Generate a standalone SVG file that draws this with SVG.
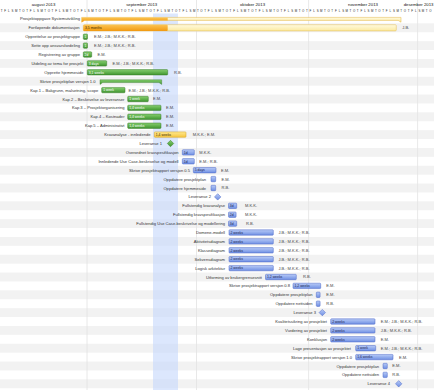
<svg xmlns="http://www.w3.org/2000/svg" width="434" height="390" viewBox="0 0 434 390">
<defs>
<linearGradient id="gg" x1="0" y1="0" x2="0" y2="1"><stop offset="0" stop-color="#86cf6f"/><stop offset="1" stop-color="#3f952f"/></linearGradient>
<linearGradient id="gb" x1="0" y1="0" x2="0" y2="1"><stop offset="0" stop-color="#b8cbf7"/><stop offset="1" stop-color="#6f8fe3"/></linearGradient>
<linearGradient id="gy" x1="0" y1="0" x2="0" y2="1"><stop offset="0" stop-color="#ffe98e"/><stop offset="1" stop-color="#f6c540"/></linearGradient>
<linearGradient id="go" x1="0" y1="0" x2="0" y2="1"><stop offset="0" stop-color="#fcc452"/><stop offset="1" stop-color="#f19a12"/></linearGradient>
<linearGradient id="gp" x1="0" y1="0" x2="0" y2="1"><stop offset="0" stop-color="#fffbe0"/><stop offset="1" stop-color="#fbe9a0"/></linearGradient>
<clipPath id="prog"><rect x="0" y="0" width="167.7" height="390"/></clipPath>
</defs>
<style>
text{font-family:"Liberation Sans",Arial,sans-serif}
.lbl{font-size:4.1px;fill:#333;text-anchor:end}
.res{font-size:4px;fill:#454545}
.in{font-size:3.4px;fill:#1b2450}
.gi{font-size:3.4px;fill:#ffffff}
.yi{font-size:3.4px;fill:#3a2a00}
.g{fill:url(#gg);stroke:#387a2a;stroke-width:.5}
.b{fill:url(#gb);stroke:#4a67c6;stroke-width:.5}
.y{fill:url(#gy);stroke:#d4a01c;stroke-width:.5}
.row{fill:#f2f2f2}
.grid{stroke:#e2e2e2;stroke-width:.8}
.mon{font-size:4.3px;fill:#111;text-anchor:middle}
.day{font-size:2.9px;fill:#222;text-anchor:middle}
.ms{stroke-width:.5}
</style>
<rect width="434" height="390" fill="#fff"/>
<g id="rows">
<rect class="row" x="0" y="23.35" width="434" height="8.9"/>
<rect class="row" x="0" y="41.15" width="434" height="8.9"/>
<rect class="row" x="0" y="58.95" width="434" height="8.9"/>
<rect class="row" x="0" y="76.75" width="434" height="8.9"/>
<rect class="row" x="0" y="94.55" width="434" height="8.9"/>
<rect class="row" x="0" y="112.35" width="434" height="8.9"/>
<rect class="row" x="0" y="130.15" width="434" height="8.9"/>
<rect class="row" x="0" y="147.95" width="434" height="8.9"/>
<rect class="row" x="0" y="165.75" width="434" height="8.9"/>
<rect class="row" x="0" y="183.55" width="434" height="8.9"/>
<rect class="row" x="0" y="201.35" width="434" height="8.9"/>
<rect class="row" x="0" y="219.15" width="434" height="8.9"/>
<rect class="row" x="0" y="236.95" width="434" height="8.9"/>
<rect class="row" x="0" y="254.75" width="434" height="8.9"/>
<rect class="row" x="0" y="272.55" width="434" height="8.9"/>
<rect class="row" x="0" y="290.35" width="434" height="8.9"/>
<rect class="row" x="0" y="308.15" width="434" height="8.9"/>
<rect class="row" x="0" y="325.95" width="434" height="8.9"/>
<rect class="row" x="0" y="343.75" width="434" height="8.9"/>
<rect class="row" x="0" y="361.55" width="434" height="8.9"/>
<rect class="row" x="0" y="379.35" width="434" height="8.9"/>
</g>
<rect id="current-week" x="153" y="13.5" width="25" height="376.5" fill="#c4d7fb" opacity=".6"/>
<g id="grid">
<line class="grid" x1="87" y1="0" x2="87" y2="390"/>
<line class="grid" x1="196.5" y1="0" x2="196.5" y2="390"/>
<line class="grid" x1="308.6" y1="0" x2="308.6" y2="390"/>
<line class="grid" x1="417.6" y1="0" x2="417.6" y2="390"/>
</g>
<g id="header">
<text class="mon" x="43.5" y="6">august 2013</text>
<text class="mon" x="141.7" y="6">september 2013</text>
<text class="mon" x="252.5" y="6">oktober 2013</text>
<text class="mon" x="363" y="6">november 2013</text>
<text class="mon" x="433.5" y="6" style="text-anchor:end">desember 2013</text>
<text class="day" y="11.6" x="1.63 5.26 8.90 12.53 16.16 19.80 23.43 27.06 30.69 34.33 37.96 41.59 45.23 48.86 52.49 56.13 59.76 63.39 67.02 70.66 74.29 77.92 81.56 85.19 88.82 92.46 96.09 99.72 103.35 106.99 110.62 114.25 117.89 121.52 125.15 128.79 132.42 136.05 139.68 143.32 146.95 150.58 154.22 157.85 161.48 165.12 168.75 172.38 176.01 179.65 183.28 186.91 190.55 194.18 197.81 201.45 205.08 208.71 212.34 215.98 219.61 223.24 226.88 230.51 234.14 237.78 241.41 245.04 248.67 252.31 255.94 259.57 263.21 266.84 270.47 274.11 277.74 281.37 285.00 288.64 292.27 295.90 299.54 303.17 306.80 310.44 314.07 317.70 321.33 324.97 328.60 332.23 335.87 339.50 343.13 346.77 350.40 354.03 357.66 361.30 364.93 368.56 372.20 375.83 379.46 383.10 386.73 390.36 393.99 397.63 401.26 404.89 408.53 412.16 415.79 419.43 423.06 426.69 430.32">TFLSMTOTFLSMTOTFLSMTOTFLSMTOTFLSMTOTFLSMTOTFLSMTOTFLSMTOTFLSMTOTFLSMTOTFLSMTOTFLSMTOTFLSMTOTFLSMTOTFLSMTOTFLSMTOTFLSMTO</text>
</g>
<g id="connectors"></g>

<g id="t00">
<text class="lbl" x="80" y="20.4">Prosjektoppgave Systemutvikling</text>
<path d="M81.7,17.4 H401 V22.2 L398.2,20.4 H84.5 L81.7,22.2 Z" fill="url(#gp)" stroke="#e0b547" stroke-width=".5"/>
<path d="M81.7,17.4 H401 V22.2 L398.2,20.4 H84.5 L81.7,22.2 Z" fill="url(#go)" clip-path="url(#prog)"/>
</g>
<g id="t01">
<text class="lbl" x="79.5" y="29.3">Fortløpende dokumentasjon</text>
<rect x="83.3" y="24.7" width="313" height="6.2" rx="1" fill="url(#gp)" stroke="#e3bb4e" stroke-width=".5"/>
<rect x="83.3" y="24.7" width="84.4" height="6.2" rx="1" fill="url(#go)"/>
<text class="yi" x="85" y="29">3,5 months</text>
<text class="res" x="402.3" y="29.2">J.B.</text>
</g>
<g id="t02">
<text class="lbl" x="80" y="38.2">Opprettelse av prosjektgruppe</text>
<rect class="g" x="83.3" y="34" width="4.2" height="5.4" rx=".8"/>
<text class="gi" x="84.5" y="37.9">1</text>
<text class="res" x="94" y="38.1">E.M.; J.B.; M.K.K.; R.B.</text>
</g>
<g id="t03">
<text class="lbl" x="80" y="47.1">Sette opp ansvarsfordeling</text>
<rect class="g" x="83.3" y="42.9" width="4.2" height="5.4" rx=".8"/>
<text class="gi" x="84.5" y="46.8">1</text>
<text class="res" x="94" y="47">E.M.; J.B.; M.K.K.; R.B.</text>
</g>
<g id="t04">
<text class="lbl" x="80" y="56">Registrering av gruppe</text>
<rect class="g" x="83.3" y="51.8" width="8.4" height="5.4" rx=".8"/>
<text class="gi" x="84.6" y="55.7">2d</text>
<text class="res" x="97.5" y="55.9">E.M.</text>
</g>
<g id="t05">
<text class="lbl" x="83.5" y="64.9">Utdeling av tema for prosjekt</text>
<rect class="g" x="87.3" y="60.7" width="19.4" height="5.4" rx=".8"/>
<text class="gi" x="88.8" y="64.6">3 days</text>
<text class="res" x="112.5" y="64.8">E.M.; J.B.; M.K.K.; R.B.</text>
</g>
<g id="t06">
<text class="lbl" x="83.5" y="73.8">Opprette hjemmeside</text>
<rect class="g" x="87.3" y="69.6" width="80.4" height="5.4" rx=".8"/>
<text class="gi" x="88.8" y="73.5">3,1 weeks</text>
<text class="res" x="174" y="73.7">R.B.</text>
</g>
<g id="t07">
<text class="lbl" x="95.5" y="82.7">Skrive prosjektplan versjon 1.0</text>
<path d="M100,79.8 H161.7 V84.4 L159,82.6 H102.7 L100,84.4 Z" fill="url(#gg)" stroke="#387a2a" stroke-width=".4"/>
</g>
<g id="t08">
<text class="lbl" x="98.3" y="91.6">Kap.1 – Bakgrunn, målsetning, scope</text>
<rect class="g" x="101.7" y="87.4" width="23.3" height="5.4" rx=".8"/>
<text class="gi" x="103.2" y="91.3">1 week</text>
<text class="res" x="128.5" y="91.5">E.M.; J.B.; M.K.K.; R.B.</text>
</g>
<g id="t09">
<text class="lbl" x="124.5" y="100.5">Kap.2 – Beskrivelse av leveranser</text>
<rect class="g" x="127.7" y="96.3" width="20.6" height="5.4" rx=".8"/>
<text class="gi" x="129.2" y="100.2">1 week</text>
<text class="res" x="153" y="100.4">E.M.</text>
</g>
<g id="t10">
<text class="lbl" x="124.5" y="109.4">Kap.3 – Prosjektorganisering</text>
<rect class="g" x="127.7" y="105.2" width="33.3" height="5.4" rx=".8"/>
<text class="gi" x="129.2" y="109.1">1,4 weeks</text>
<text class="res" x="166" y="109.3">E.M.</text>
</g>
<g id="t11">
<text class="lbl" x="124.5" y="118.3">Kap.4 – Kostnader</text>
<rect class="g" x="127.7" y="114.1" width="33.3" height="5.4" rx=".8"/>
<text class="gi" x="129.2" y="118">1,4 weeks</text>
<text class="res" x="166" y="118.2">E.M.</text>
</g>
<g id="t12">
<text class="lbl" x="124.5" y="127.2">Kap.5 – Administrativt</text>
<rect class="g" x="127.7" y="123" width="33.3" height="5.4" rx=".8"/>
<text class="gi" x="129.2" y="126.9">1,4 weeks</text>
<text class="res" x="166" y="127.1">E.M.</text>
</g>
<g id="t13">
<text class="lbl" x="150.5" y="136.1">Kravanalyse - innledende</text>
<rect class="y" x="154.3" y="131.9" width="31.7" height="5.4" rx=".8"/>
<text class="yi" x="155.8" y="135.8">1,4 weeks</text>
<text class="res" x="192.7" y="136">M.K.K.; E.M.</text>
</g>
<g id="t14">
<text class="lbl" x="162" y="145">Leveranse 1</text>
<polygon class="ms" points="170.5,140.3 173.7,143.5 170.5,146.7 167.3,143.5" fill="url(#gg)" stroke="#387a2a"/>
</g>
<g id="t15">
<text class="lbl" x="178.5" y="153.9">Overordnet kravspesifikasjon</text>
<rect class="b" x="182.3" y="149.7" width="12" height="5.4" rx=".8"/>
<text class="in" x="183.8" y="153.6">1d</text>
<text class="res" x="199.3" y="153.8">M.K.K.</text>
</g>
<g id="t16">
<text class="lbl" x="178.5" y="162.8">Innledende Use Case-beskrivelse og modell</text>
<rect class="b" x="182.3" y="158.6" width="12" height="5.4" rx=".8"/>
<text class="in" x="183.8" y="162.5">1d</text>
<text class="res" x="199.3" y="162.7">E.M.; R.B.</text>
</g>
<g id="t17">
<text class="lbl" x="190" y="171.7">Skrive prosjektrapport versjon 0.5</text>
<rect class="b" x="193.3" y="167.5" width="22.7" height="5.4" rx=".8"/>
<text class="in" x="194.8" y="171.4">5 days</text>
<text class="res" x="221" y="171.6">E.M.</text>
</g>
<g id="t18">
<text class="lbl" x="206" y="180.6">Oppdatere prosjektplan</text>
<rect class="b" x="211" y="176.4" width="4.7" height="5.4" rx=".8"/>
<text class="res" x="221.5" y="180.5">E.M.</text>
</g>
<g id="t19">
<text class="lbl" x="206" y="189.5">Oppdatere hjemmeside</text>
<rect class="b" x="211" y="185.3" width="4.7" height="5.4" rx=".8"/>
<text class="res" x="221.5" y="189.4">R.B.</text>
</g>
<g id="t20">
<text class="lbl" x="211" y="198.4">Leveranse 2</text>
<polygon class="ms" points="217.7,193.7 220.9,196.9 217.7,200.1 214.5,196.9" fill="url(#gb)" stroke="#4a67c6"/>
</g>
<g id="t21">
<text class="lbl" x="225" y="207.3">Fullstendig kravanalyse</text>
<rect class="b" x="228.5" y="203.1" width="8.2" height="5.4" rx=".8"/>
<text class="in" x="229.8" y="207">3d</text>
<text class="res" x="245" y="207.2">M.K.K.</text>
</g>
<g id="t22">
<text class="lbl" x="225" y="216.2">Fullstendig kravspesifikasjon</text>
<rect class="b" x="228.5" y="212" width="7.6" height="5.4" rx=".8"/>
<text class="in" x="229.8" y="215.9">2d</text>
<text class="res" x="245" y="216.1">M.K.K.</text>
</g>
<g id="t23">
<text class="lbl" x="225" y="225.1">Fullstendig Use Case-beskrivelse og modellering</text>
<rect class="b" x="228.5" y="220.9" width="8.2" height="5.4" rx=".8"/>
<text class="in" x="229.8" y="224.8">3d</text>
<text class="res" x="246" y="225">R.B.</text>
</g>
<g id="t24">
<text class="lbl" x="225" y="234">Domene-modell</text>
<rect class="b" x="229" y="229.8" width="44.3" height="5.4" rx=".8"/>
<text class="in" x="230.5" y="233.7">2 weeks</text>
<text class="res" x="278.5" y="233.9">J.B.; M.K.K.; R.B.</text>
</g>
<g id="t25">
<text class="lbl" x="225" y="242.9">Aktivitetsdiagram</text>
<rect class="b" x="229" y="238.7" width="44.3" height="5.4" rx=".8"/>
<text class="in" x="230.5" y="242.6">2 weeks</text>
<text class="res" x="278.5" y="242.8">J.B.; M.K.K.; R.B.</text>
</g>
<g id="t26">
<text class="lbl" x="225" y="251.8">Klassediagram</text>
<rect class="b" x="229" y="247.6" width="44.3" height="5.4" rx=".8"/>
<text class="in" x="230.5" y="251.5">2 weeks</text>
<text class="res" x="278.5" y="251.7">J.B.; M.K.K.; R.B.</text>
</g>
<g id="t27">
<text class="lbl" x="225" y="260.7">Sekvensdiagram</text>
<rect class="b" x="229" y="256.5" width="44.3" height="5.4" rx=".8"/>
<text class="in" x="230.5" y="260.4">2 weeks</text>
<text class="res" x="278.5" y="260.6">J.B.; M.K.K.; R.B.</text>
</g>
<g id="t28">
<text class="lbl" x="225" y="269.6">Logisk arkitektur</text>
<rect class="b" x="229" y="265.4" width="44.3" height="5.4" rx=".8"/>
<text class="in" x="230.5" y="269.3">2 weeks</text>
<text class="res" x="278.5" y="269.5">J.B.; M.K.K.; R.B.</text>
</g>
<g id="t29">
<text class="lbl" x="262" y="278.5">Utforming av brukergrensesnitt</text>
<rect class="b" x="265.5" y="274.3" width="30.8" height="5.4" rx=".8"/>
<text class="in" x="267" y="278.2">1,2 weeks</text>
<text class="res" x="303" y="278.4">R.B.</text>
</g>
<g id="t30">
<text class="lbl" x="290" y="287.4">Skrive prosjektrapport versjon 0.8</text>
<rect class="b" x="293" y="283.2" width="27.7" height="5.4" rx=".8"/>
<text class="in" x="294.5" y="287.1">1,2 weeks</text>
<text class="res" x="326.3" y="287.3">E.M.</text>
</g>
<g id="t31">
<text class="lbl" x="312.5" y="296.3">Oppdatere prosjektplan</text>
<rect class="b" x="316.3" y="292.1" width="3.8" height="5.4" rx=".8"/>
<text class="res" x="326.3" y="296.2">E.M.</text>
</g>
<g id="t32">
<text class="lbl" x="312.5" y="305.2">Oppdatere nettsiden</text>
<rect class="b" x="316.3" y="301" width="3.8" height="5.4" rx=".8"/>
<text class="res" x="326.3" y="305.1">R.B.</text>
</g>
<g id="t33">
<text class="lbl" x="316" y="314.1">Leveranse 3</text>
<polygon class="ms" points="322.3,309.4 325.5,312.6 322.3,315.8 319.1,312.6" fill="url(#gb)" stroke="#4a67c6"/>
</g>
<g id="t34">
<text class="lbl" x="327" y="323">Kvalitetssikring av prosjektet</text>
<rect class="b" x="330.7" y="318.8" width="44.3" height="5.4" rx=".8"/>
<text class="in" x="332.2" y="322.7">2 weeks</text>
<text class="res" x="380.7" y="322.9">E.M.; J.B.; M.K.K.; R.B.</text>
</g>
<g id="t35">
<text class="lbl" x="327" y="331.9">Vurdering av prosjektet</text>
<rect class="b" x="330.7" y="327.7" width="44.3" height="5.4" rx=".8"/>
<text class="in" x="332.2" y="331.6">2 weeks</text>
<text class="res" x="380.7" y="331.8">J.B.; M.K.K.; R.B.</text>
</g>
<g id="t36">
<text class="lbl" x="327" y="340.8">Konklusjon</text>
<rect class="b" x="330.7" y="336.6" width="44.3" height="5.4" rx=".8"/>
<text class="in" x="332.2" y="340.5">2 weeks</text>
<text class="res" x="380.7" y="340.7">E.M.</text>
</g>
<g id="t37">
<text class="lbl" x="351" y="349.7">Lage presentasjon av prosjektet</text>
<rect class="b" x="355.7" y="345.5" width="20" height="5.4" rx=".8"/>
<text class="in" x="357.2" y="349.4">1 week</text>
<text class="res" x="380.7" y="349.6">E.M.; J.B.; M.K.K.; R.B.</text>
</g>
<g id="t38">
<text class="lbl" x="352" y="358.6">Skrive prosjektrapport versjon 1.0</text>
<rect class="b" x="355.7" y="354.4" width="37.3" height="5.4" rx=".8"/>
<text class="in" x="357.2" y="358.3">1,6 weeks</text>
<text class="res" x="399" y="358.5">E.M.</text>
</g>
<g id="t39">
<text class="lbl" x="379" y="367.5">Oppdatere prosjektplan</text>
<rect class="b" x="383" y="363.3" width="4.3" height="5.4" rx=".8"/>
<text class="res" x="392.3" y="367.4">E.M.</text>
</g>
<g id="t40">
<text class="lbl" x="379" y="376.4">Oppdatere nettsiden</text>
<rect class="b" x="383" y="372.2" width="4.3" height="5.4" rx=".8"/>
<text class="res" x="392.3" y="376.3">R.B.</text>
</g>
<g id="t41">
<text class="lbl" x="390" y="385.3">Leveranse 4</text>
<polygon class="ms" points="398.7,380.6 401.9,383.8 398.7,387 395.5,383.8" fill="url(#gb)" stroke="#4a67c6"/>
</g>
</svg>
